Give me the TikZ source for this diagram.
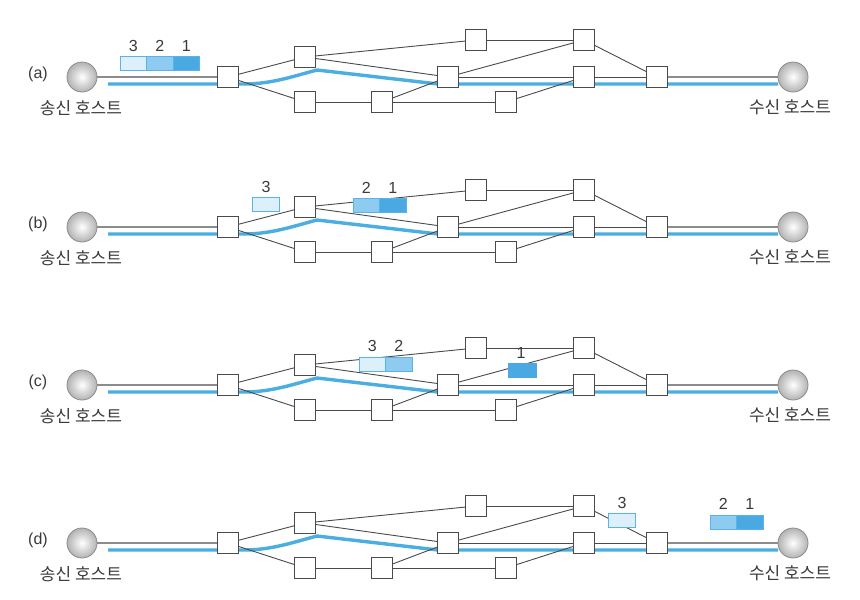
\documentclass[tikz,border=0pt]{standalone}
\usepackage{fontspec}
\setmainfont{Liberation Sans}
\newfontfamily\krfont{Noto Sans CJK KR}
\definecolor{pathblue}{HTML}{4AAEE0}
\definecolor{pktlight}{HTML}{DCEFFA}
\definecolor{pktmid}{HTML}{8DCBF0}
\definecolor{pktdark}{HTML}{4AA9E3}
\definecolor{pktedge}{HTML}{5AB3E6}
\definecolor{linkgray}{HTML}{4A4A4A}
\definecolor{hostgray}{HTML}{8C8C8C}
\definecolor{txtgray}{HTML}{3A3A3A}
\tikzset{
 router/.style={draw=linkgray, fill=white, line width=1pt, minimum size=21pt, inner sep=0pt},
 host/.style={circle, draw=gray!90, line width=0.8pt, inner color=white, outer color=gray!60, minimum size=30pt, inner sep=0pt},
 link/.style={draw=linkgray, line width=0.9pt},
 hostlink/.style={draw=hostgray, line width=1.8pt},
 route/.style={draw=pathblue, line width=3.4pt},
 pkt/.style={draw=pktedge, line width=0.8pt, minimum width=26.5pt, minimum height=14pt, inner sep=0pt},
 num/.style={text=txtgray, font=\fontsize{16}{16}\selectfont, inner sep=0pt},
 panellbl/.style={text=txtgray, font=\fontsize{16}{16}\selectfont, inner sep=0pt},
 hostlbl/.style={text=txtgray, font=\krfont\fontsize{17}{17}\selectfont, inner sep=0pt},
}
\newcommand\netpanel[3]{%
\begin{scope}[shift={(0,#2)}]
 \draw[route] (108,84) -- (244,84) .. controls (272,84) and (294,76) .. (317,70) -- (438,84) -- (778,84);
 \node[router] (#1r1) at (228,77) {};
 \node[router] (#1r2) at (305,57) {};
 \node[router] (#1r3) at (305,102) {};
 \node[router] (#1r4) at (382,102) {};
 \node[router] (#1r5) at (476,40) {};
 \node[router] (#1r6) at (448,77) {};
 \node[router] (#1r7) at (506,102) {};
 \node[router] (#1r8) at (584,40) {};
 \node[router] (#1r9) at (584,77) {};
 \node[router] (#1r10) at (657,77) {};
 \node[host] (#1hl) at (82,77) {};
 \node[host] (#1hr) at (793,77) {};
 \draw[hostlink] (#1hl) -- (#1r1);
 \draw[hostlink] (#1r10) -- (#1hr);
 \draw[link] (#1r1) -- (#1r2);
 \draw[link] (#1r1) -- (#1r3);
 \draw[link] (#1r2) -- (#1r5);
 \draw[link] (#1r2) -- (#1r6);
 \draw[link] (#1r3) -- (#1r4);
 \draw[link] (#1r4) -- (#1r6);
 \draw[link] (#1r4) -- (#1r7);
 \draw[link] (#1r5) -- (#1r8);
 \draw[link] (#1r6) -- (#1r8);
 \draw[link] (#1r6) -- (#1r9);
 \draw[link] (#1r7) -- (#1r9);
 \draw[link] (#1r8) -- (#1r10);
 \draw[link] (#1r9) -- (#1r10);
 \node[panellbl] (#1lbl) at (38,74) {(#1)};
 \node[hostlbl] (#1tl) at (81,108.5) {송신 호스트};
 \node[hostlbl] (#1tr) at (790,107.5) {수신 호스트};
\end{scope}}
\begin{document}
\begin{tikzpicture}[x=1pt,y=-1pt]
\useasboundingbox[fill=white] (0,0) rectangle (860,600);
\netpanel{a}{0}{}
\netpanel{b}{150}{}
\netpanel{c}{308}{}
\netpanel{d}{466}{}
% (a) packets
\node[pkt, fill=pktlight] (ap3) at (133.3,63) {};
\node[pkt, fill=pktmid] (ap2) at (159.8,63) {};
\node[pkt, fill=pktdark] (ap1) at (186.3,63) {};
\node[num] (an3) at (133.3,45.5) {3};
\node[num] (an2) at (159.8,45.5) {2};
\node[num] (an1) at (186.3,45.5) {1};
% (b) packets
\node[pkt, fill=pktlight, minimum width=27pt] (bp3) at (266,204.5) {};
\node[num] (bn3) at (266,187) {3};
\node[pkt, fill=pktmid] (bp2) at (366.3,205.5) {};
\node[pkt, fill=pktdark] (bp1) at (392.8,205.5) {};
\node[num] (bn2) at (366.3,187.5) {2};
\node[num] (bn1) at (392.8,187.5) {1};
% (c) packets
\node[pkt, fill=pktlight] (cp3) at (372.3,364) {};
\node[pkt, fill=pktmid] (cp2) at (398.8,364) {};
\node[num] (cn3) at (372.3,346) {3};
\node[num] (cn2) at (398.8,346) {2};
\node[pkt, fill=pktdark, draw=pktdark, minimum width=28pt] (cp1) at (522,370.5) {};
\node[num] (cn1) at (521,352.5) {1};
% (d) packets
\node[pkt, fill=pktlight, minimum width=27pt] (dp3) at (621.5,520.5) {};
\node[num] (dn3) at (622,503) {3};
\node[pkt, fill=pktmid] (dp2) at (723.3,522) {};
\node[pkt, fill=pktdark] (dp1) at (749.8,522) {};
\node[num] (dn2) at (723.3,503.5) {2};
\node[num] (dn1) at (749.8,503.5) {1};
\end{tikzpicture}
\end{document}
